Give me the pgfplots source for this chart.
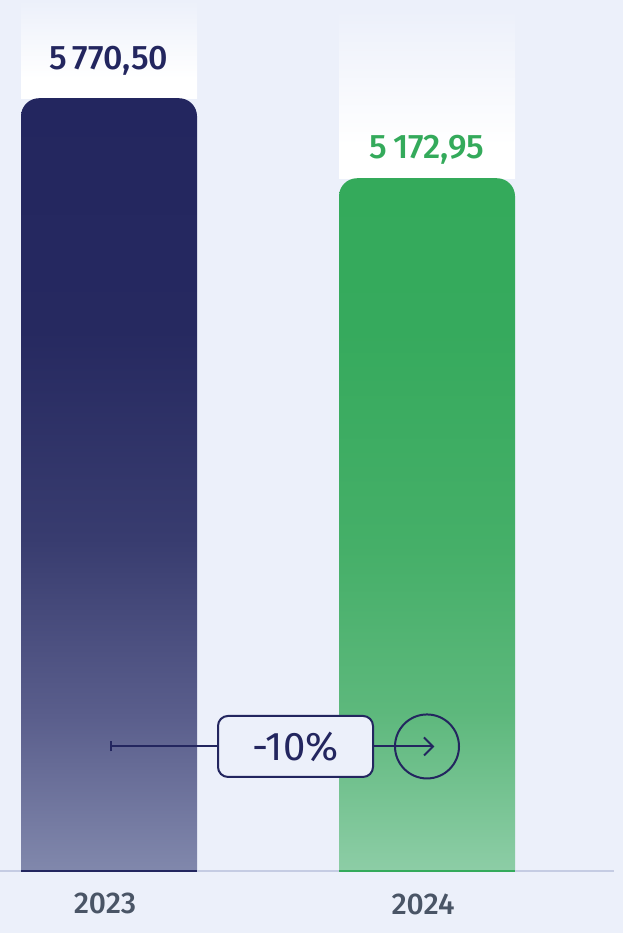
\documentclass[border=0pt]{standalone}
\usepackage{pgfplots}
\pgfplotsset{compat=1.18}
\usepackage{fontspec}
\setmainfont{Fira Sans}[BoldFont={Fira Sans Medium}]
\definecolor{bg}{HTML}{ECF0FA}
\definecolor{navy}{HTML}{23265F}
\definecolor{green}{HTML}{34AA5B}
\definecolor{yeargray}{HTML}{4A5566}
\definecolor{baseC}{HTML}{C5CCE3}
\definecolor{nv1}{HTML}{8188AC}
\definecolor{nv2}{HTML}{5A5E8C}
\definecolor{nv3}{HTML}{383C6F}
\definecolor{nv4}{HTML}{262960}
\definecolor{gr1}{HTML}{8DCDA6}
\definecolor{gr2}{HTML}{5DB87C}
\definecolor{gr3}{HTML}{45AF68}
\definecolor{gr4}{HTML}{36AA5D}
% shadings are fitted so that 25bp..75bp covers the path
\pgfdeclareverticalshading{navyshade}{100bp}{color(0bp)=(nv1); color(25bp)=(nv1); color(35bp)=(nv2); color(46.5bp)=(nv3); color(60bp)=(nv4); color(75bp)=(navy); color(100bp)=(navy)}
\pgfdeclareverticalshading{greenshade}{100bp}{color(0bp)=(gr1); color(25bp)=(gr1); color(36.5bp)=(gr2); color(48.5bp)=(gr3); color(64bp)=(gr4); color(75bp)=(green); color(100bp)=(green)}
\pgfdeclareverticalshading{glowshade}{100bp}{color(0bp)=(white); color(25bp)=(white); color(35bp)=(white); color(75bp)=(bg); color(100bp)=(bg)}

\begin{document}
\begin{tikzpicture}
\begin{axis}[
    scale only axis, width=311.5pt, height=466.5pt,
    xmin=0, xmax=623, ymin=-463, ymax=6504,
    hide axis, clip=true,
]
% background
\fill[bg] (rel axis cs:0,0) rectangle (rel axis cs:1,1);
% light columns above the bars
\addplot[draw=none, mark=none, shade, shading=glowshade] coordinates {(21,5770.50) (21,6504) (197,6504) (197,5770.50)};
\addplot[draw=none, mark=none, shade, shading=glowshade] coordinates {(339,5172.95) (339,6430) (515,6430) (515,5172.95)};
% bars (open path so that only the top corners are rounded)
\addplot[draw=none, mark=none, shade, shading=navyshade, rounded corners=9pt] coordinates {(21,0) (21,5770.50) (197,5770.50) (197,0)};
\addplot[draw=none, mark=none, shade, shading=greenshade, rounded corners=9pt] coordinates {(339,0) (339,5172.95) (515,5172.95) (515,0)};
% baseline
\draw[baseC, line width=1pt] (axis cs:0,0) -- (axis cs:614,0);
\draw[navy, line width=1.2pt] (axis cs:21,0) -- (axis cs:197,0);
\draw[green, line width=1.2pt] (axis cs:339,0) -- (axis cs:515,0);
% value labels
\node[navy, font=\fontsize{17}{20}\selectfont\bfseries] at (axis cs:109,6049) {5\,770,50};
\node[green, font=\fontsize{17}{20}\selectfont\bfseries] at (axis cs:427,5384) {5\,172,95};
% year labels
\node[yeargray, font=\fontsize{15}{18}\selectfont\bfseries] at (axis cs:105,-246) {2023};
\node[yeargray, font=\fontsize{15}{18}\selectfont\bfseries] at (axis cs:423,-246) {2024};
% change annotation
\draw[navy, line width=1pt] (axis cs:111,930) -- (axis cs:433,930);
\draw[navy, line width=1pt] ([yshift=-2.5pt]axis cs:111,930) -- ([yshift=2.5pt]axis cs:111,930);
\draw[navy, line width=1pt] ([xshift=-4.5pt,yshift=4.5pt]axis cs:433,930) -- (axis cs:433,930) -- ([xshift=-4.5pt,yshift=-4.5pt]axis cs:433,930);
\draw[navy, line width=1pt] (axis cs:427,930) circle[radius=16pt];
\node[draw=navy, fill=bg, line width=1pt, rounded corners=5pt, minimum width=77.5pt, minimum height=30.5pt, inner sep=0pt,
      text=navy, font=\fontsize{20}{24}\selectfont] at (axis cs:295.5,930) {-10\%};
\end{axis}
\end{tikzpicture}
\end{document}
